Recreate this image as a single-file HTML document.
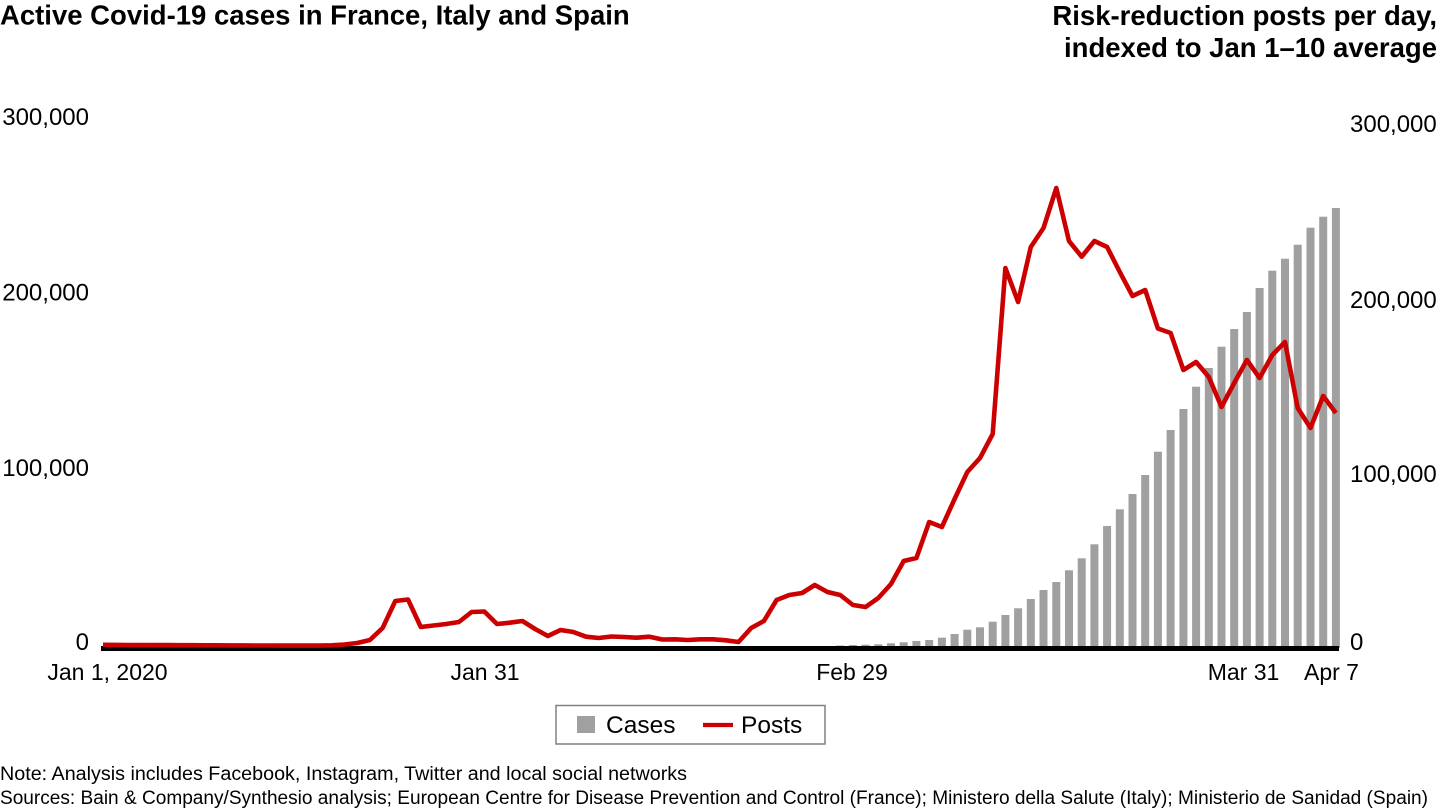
<!DOCTYPE html>
<html>
<head>
<meta charset="utf-8">
<style>
  html, body { margin: 0; padding: 0; background: #ffffff; }
  svg { display: block; }
  text { font-family: "Liberation Sans", Arial, sans-serif; fill: #000; }
</style>
</head>
<body>
<svg width="1440" height="810" viewBox="0 0 1440 810" xmlns="http://www.w3.org/2000/svg">
  <rect x="0" y="0" width="1440" height="810" fill="#ffffff"/>

  <!-- Titles -->
  <text x="0" y="24.5" font-size="27.5" font-weight="bold">Active Covid-19 cases in France, Italy and Spain</text>
  <text x="1437" y="25" font-size="27.5" font-weight="bold" text-anchor="end">Risk-reduction posts per day,</text>
  <text x="1437" y="57" font-size="27.5" font-weight="bold" text-anchor="end">indexed to Jan 1–10 average</text>

  <!-- Left axis labels -->
  <g font-size="24" text-anchor="end">
    <text x="89" y="125">300,000</text>
    <text x="89" y="300.5">200,000</text>
    <text x="89" y="476">100,000</text>
    <text x="89" y="650">0</text>
  </g>
  <!-- Right axis labels -->
  <g font-size="24">
    <text x="1350" y="132">300,000</text>
    <text x="1350" y="308">200,000</text>
    <text x="1350" y="482">100,000</text>
    <text x="1350" y="650">0</text>
  </g>

  <!-- Bars -->
  <g fill="#a0a0a0">
    <rect x="836.2" y="645.5" width="8" height="3"/>
    <rect x="848.9" y="645" width="8" height="3"/>
    <rect x="861.6" y="644.7" width="8" height="3.3"/>
    <rect x="874.3" y="644.3" width="8" height="3.7"/>
    <rect x="887.0" y="643.3" width="8" height="4.7"/>
    <rect x="899.7" y="642.3" width="8" height="5.7"/>
    <rect x="912.4" y="641" width="8" height="7"/>
    <rect x="925.2" y="640" width="8" height="8"/>
    <rect x="937.9" y="637.7" width="8" height="10.3"/>
    <rect x="950.6" y="634" width="8" height="14"/>
    <rect x="963.3" y="629.7" width="8" height="18.3"/>
    <rect x="976.0" y="627.3" width="8" height="20.7"/>
    <rect x="988.7" y="621.7" width="8" height="26.3"/>
    <rect x="1001.4" y="615" width="8" height="33"/>
    <rect x="1014.1" y="608.3" width="8" height="39.7"/>
    <rect x="1026.8" y="599" width="8" height="49"/>
    <rect x="1039.5" y="590" width="8" height="58"/>
    <rect x="1052.3" y="582" width="8" height="66"/>
    <rect x="1065.0" y="570.3" width="8" height="77.7"/>
    <rect x="1077.7" y="558.3" width="8" height="89.7"/>
    <rect x="1090.4" y="544.3" width="8" height="103.7"/>
    <rect x="1103.1" y="526" width="8" height="122"/>
    <rect x="1115.8" y="509.3" width="8" height="138.7"/>
    <rect x="1128.5" y="494" width="8" height="154"/>
    <rect x="1141.2" y="475" width="8" height="173"/>
    <rect x="1153.9" y="451.7" width="8" height="196.3"/>
    <rect x="1166.6" y="430" width="8" height="218"/>
    <rect x="1179.4" y="409" width="8" height="239"/>
    <rect x="1192.1" y="386.7" width="8" height="261.3"/>
    <rect x="1204.8" y="368" width="8" height="280"/>
    <rect x="1217.5" y="346.7" width="8" height="301.3"/>
    <rect x="1230.2" y="329" width="8" height="319"/>
    <rect x="1242.9" y="312" width="8" height="336"/>
    <rect x="1255.6" y="288" width="8" height="360"/>
    <rect x="1268.3" y="270.7" width="8" height="377.3"/>
    <rect x="1281.0" y="258.7" width="8" height="389.3"/>
    <rect x="1293.7" y="244.7" width="8" height="403.3"/>
    <rect x="1306.5" y="227.7" width="8" height="420.3"/>
    <rect x="1319.2" y="216.7" width="8" height="431.3"/>
    <rect x="1331.9" y="208" width="8" height="440"/>
  </g>

  <!-- Baseline -->
  <rect x="101" y="646" width="1238" height="5" fill="#000000"/>

  <!-- Posts line -->
  <polyline fill="none" stroke="#cc0000" stroke-width="4.6" stroke-linejoin="round" stroke-linecap="butt"
    points="103,644.8 115.7,644.9 128.4,645 141.1,645 153.8,645.1 166.6,645.1 179.3,645.2 192,645.2 204.7,645.3 217.4,645.3 230.1,645.4 242.8,645.4 255.5,645.5 268.2,645.5 280.9,645.6 293.7,645.6 306.4,645.6 319.1,645.6 331.8,645.3 344.5,644.5 357.2,643 369.9,640 382.6,628 395.3,601 408,599.5 420.8,627 433.5,625.5 446.2,624 458.9,622 471.6,612 484.3,611.5 497,624 509.7,622.7 522.4,621 535.1,629 547.9,636 560.6,630 573.3,632 586,636.7 598.7,638 611.4,636.5 624.1,637 636.8,637.7 649.5,636.7 662.2,639.5 675,639.3 687.7,640 700.4,639.3 713.1,639.3 725.8,640.3 738.5,642 751.2,628 763.9,621 776.6,600 789.3,595 802.1,593 814.8,585 827.5,592 840.2,595 852.9,605 865.6,607 878.3,598 891,584 903.7,561 916.4,558 929.2,522 941.9,527 954.6,499 967.3,472 980,458 992.7,434 1005.4,268 1018.1,302 1030.8,247 1043.5,228 1056.3,188 1069,241 1081.7,256.7 1094.4,241 1107.1,247 1119.8,272 1132.5,296 1145.2,290 1157.9,328.5 1170.6,333 1183.4,370 1196.1,362 1208.8,377 1221.5,407 1234.2,383 1246.9,360 1259.6,378 1272.3,355 1285,342 1297.7,408 1310.5,428 1323.2,396 1335.9,413"/>

  <!-- X labels -->
  <g font-size="23" text-anchor="middle">
    <text x="107.5" y="680">Jan 1, 2020</text>
    <text x="485" y="680">Jan 31</text>
    <text x="852" y="680">Feb 29</text>
    <text x="1243.5" y="680">Mar 31</text>
    <text x="1331.5" y="680">Apr 7</text>
  </g>

  <!-- Legend -->
  <rect x="556" y="705.5" width="269" height="38.5" fill="#ffffff" stroke="#808080" stroke-width="1.5"/>
  <rect x="577" y="716" width="18" height="17" fill="#a0a0a0"/>
  <text x="606" y="733" font-size="24.5">Cases</text>
  <line x1="703" y1="725" x2="733" y2="725" stroke="#cc0000" stroke-width="4.2"/>
  <text x="741" y="733" font-size="24.5">Posts</text>

  <!-- Footnotes -->
  <text x="0" y="780" font-size="19.6" textLength="687" lengthAdjust="spacingAndGlyphs">Note: Analysis includes Facebook, Instagram, Twitter and local social networks</text>
  <text x="0" y="804" font-size="19.6" textLength="1428" lengthAdjust="spacingAndGlyphs">Sources: Bain &amp; Company/Synthesio analysis; European Centre for Disease Prevention and Control (France); Ministero della Salute (Italy); Ministerio de Sanidad (Spain)</text>
</svg>
</body>
</html>
